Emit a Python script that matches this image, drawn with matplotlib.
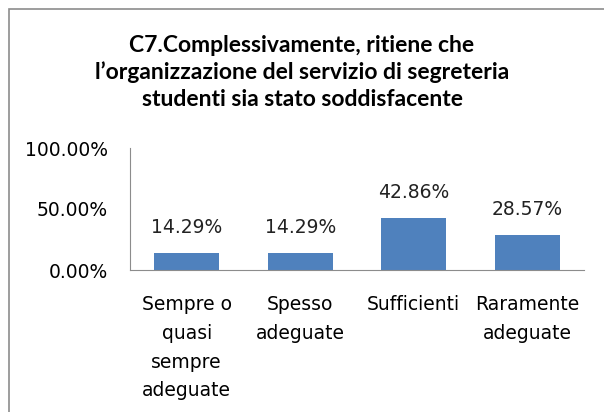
import matplotlib
matplotlib.use('Agg')
import matplotlib.pyplot as plt
from matplotlib.patches import Rectangle

categories = ['Sempre o\nquasi\nsempre\nadeguate', 'Spesso\nadeguate', 'Sufficienti', 'Raramente\nadeguate']
values = [14.29, 14.29, 42.86, 28.57]
value_labels = ['14.29%', '14.29%', '42.86%', '28.57%']
yticks = [0, 50, 100]
ytick_labels = ['0.00%', '50.00%', '100.00%']

plt.rcParams['font.family'] = ['DejaVu Sans']

W, H = 604, 412
fig = plt.figure(figsize=(W / 100, H / 100), dpi=100)

# chart frame (right and bottom edges fall outside the picture)
fig.patches.append(Rectangle((9 / W, -0.05), 1.0, 1 - 9 / H + 0.05, transform=fig.transFigure,
                             fill=False, edgecolor='#8c8c8c', linewidth=1.2))

ax = fig.add_axes([130 / W, (H - 270) / H, (584 - 130) / W, (270 - 148) / H])
x = range(len(categories))
ax.bar(x, values, width=0.57, color='#4f81bd')
for xi, v, lab in zip(x, values, value_labels):
    ax.text(xi, v + 13, lab, ha='center', va='bottom', fontsize=13.5, color='#222222')

ax.set_xlim(-0.5, len(categories) - 0.5)
ax.set_ylim(0, 100)
ax.set_yticks(yticks)
ax.set_yticklabels(ytick_labels, fontsize=13.5)
ax.set_xticks(list(x))
ax.set_xticklabels(categories, fontsize=13.5, linespacing=1.65, va='top')
ax.tick_params(length=0)
ax.tick_params(axis='x', pad=18)
ax.tick_params(axis='y', pad=16)
for s in ['top', 'right']:
    ax.spines[s].set_visible(False)
for s in ['left', 'bottom']:
    ax.spines[s].set_color('#8c8c8c')

fig.text(0.5, (H - 35) / H, "C7.Complessivamente, ritiene che\nl\u2019organizzazione del servizio di segreteria\nstudenti sia stato soddisfacente",
         ha='center', va='top', fontsize=16.5, fontweight='bold', linespacing=1.32,
         family=['Lato', 'DejaVu Sans'])

fig.savefig('out.png', dpi=100)
